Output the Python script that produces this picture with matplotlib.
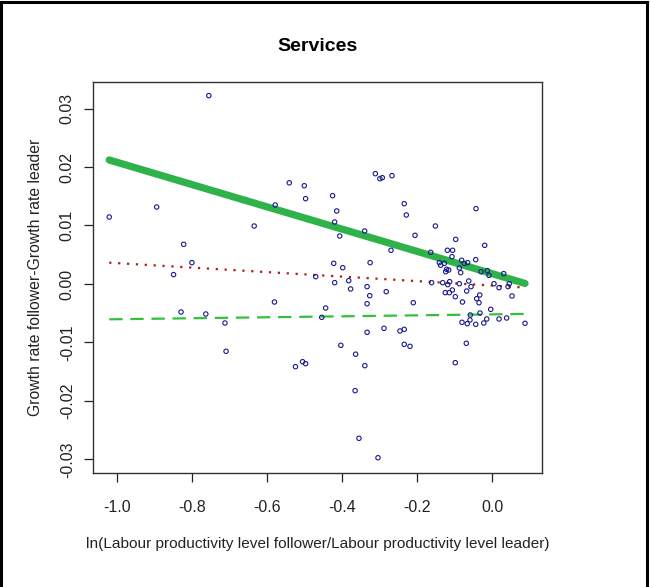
import numpy as np
import matplotlib.pyplot as plt
from matplotlib.lines import Line2D

plt.rcParams['font.family'] = ['Liberation Sans', 'DejaVu Sans']

# gap in log productivity level vs gap in growth rate, one point per country pair
gap_level = np.array([
    -1.0205, -0.755, -0.894, -0.822, -0.849, -0.800, -0.829, -0.763, -0.712, -0.709,
    -0.634, -0.578, -0.580, -0.5405, -0.5005, -0.497, -0.524, -0.505, -0.497, -0.4435,
    -0.470, -0.425, -0.414, -0.4195, -0.406, -0.422, -0.398, -0.4195, -0.382, -0.403,
    -0.311, -0.299, -0.2925, -0.2667, -0.377, -0.3395, -0.325, -0.333, -0.326, -0.333,
    -0.333, -0.3635, -0.339, -0.365, -0.3547, -0.304, -0.288, -0.282, -0.2693, -0.2453,
    -0.234, -0.234, -0.2187, -0.234, -0.2285, -0.2053, -0.2098, -0.151, -0.1635, -0.1405,
    -0.137, -0.127, -0.119, -0.105, -0.1067, -0.0968, -0.121, -0.1235, -0.1155, -0.1315,
    -0.118, -0.113, -0.1245, -0.1138, -0.1058, -0.0978, -0.0872, -0.0872, -0.0835, -0.081,
    -0.074, -0.065, -0.0788, -0.08, -0.062, -0.056, -0.0675, -0.066, -0.0587, -0.0685,
    -0.098, -0.0427, -0.0435, -0.0195, -0.0435, -0.0408, -0.0347, -0.0328, -0.032, -0.022,
    -0.014, -0.0035, -0.0293, -0.0125, -0.008, 0.0053, 0.0187, 0.0312, 0.0427, 0.046,
    0.0533, 0.0187, 0.039, 0.088, -0.161, -0.454, -0.058])
gap_growth = np.array([
    0.01145, 0.0322, 0.01316, 0.00678, 0.0016, 0.00365, -0.00479, -0.00513, -0.00667, -0.0115,
    0.00991, 0.0135, -0.00308, 0.0173, 0.0168, 0.01459, -0.01413, -0.01328, -0.01362, -0.0041,
    0.00125, 0.0151, 0.01248, 0.0106, 0.0082, 0.00353, 0.00279, 0.00023, 0.00057, -0.01048,
    0.01886, 0.0180, 0.01817, 0.01852, -0.00085, 0.00906, 0.00365, -0.00045, -0.002, -0.00337,
    -0.00826, -0.0120, -0.01396, -0.01823, -0.02638, -0.0297, -0.00758, -0.00131, 0.00576, -0.00803,
    -0.00775, -0.01031, -0.01066, 0.01373, 0.0118, 0.00832, -0.0032, 0.00991, 0.00541, 0.00365,
    0.0032, 0.00353, 0.00576, 0.00576, 0.00467, 0.00763, 0.00251, 0.0021, 0.00239, 0.00023,
    -0.00011, 0.0004, -0.00148, -0.00148, -0.00103, -0.00217, 0.00005, 0.00274, 0.00194, 0.00405,
    0.00353, 0.00365, -0.00308, -0.00655, 0.00051, -0.00045, -0.0012, -0.00678, -0.00615, -0.01014,
    -0.01345, 0.01288, 0.00416, 0.00661, -0.00689, -0.00251, -0.0032, -0.00188, -0.00496, -0.00667,
    -0.00598, -0.00433, 0.0021, 0.00228, 0.00148, 0.00005, -0.00063, 0.00177, -0.00045, 0.00005,
    -0.00205, -0.00598, -0.00581, -0.00672, 0.00023, -0.0057, -0.0053])

# three fitted lines: intercept, slope
fit_names = ['main', 'dotted', 'dashed']
fit_intercept = [0.00177, -0.00027, -0.00519]
fit_slope = [-0.01904, -0.00384, 0.00083]

x_ticks = [-1.0, -0.8, -0.6, -0.4, -0.2, 0.0]
y_ticks = [-0.03, -0.02, -0.01, 0.00, 0.01, 0.02, 0.03]

fig = plt.figure(figsize=(6.5, 5.87), dpi=100)
ax = fig.add_axes([0.1435, 0.1942, 0.6899, 0.6666])

xx = np.array([gap_level.min(), gap_level.max()])
styles = {
    'main': dict(color='#2db34a', lw=5.2, ls='-', solid_capstyle='round', zorder=2),
    'dotted': dict(color='#b01c1c', lw=1.6, ls=(0, (1.0, 3.0)), zorder=2),
    'dashed': dict(color='#33c13a', lw=1.6, ls=(0, (6, 3.5)), zorder=2),
}
for name, a, b in zip(fit_names, fit_intercept, fit_slope):
    ax.plot(xx, a + b * xx, **styles[name])

ax.scatter(gap_level, gap_growth, s=10, facecolors='none', edgecolors='#1a1a8c',
           linewidths=0.8, zorder=3)

ax.set_xlim(-1.063, 0.1325)
ax.set_ylim(-0.03231, 0.03458)
ax.set_xticks(x_ticks)
ax.set_xticklabels([f"{v:.1f}" for v in x_ticks])
ax.set_yticks(y_ticks)
ax.set_yticklabels([f"{v:.2f}" for v in y_ticks], rotation=90, va='center')
ax.tick_params(direction='out', length=6.3, width=0.9, labelsize=11.5, colors='#222222')
ax.tick_params(axis='x', pad=13)
ax.tick_params(axis='y', pad=7)
for s in ax.spines.values():
    s.set_linewidth(1.0)
    s.set_color('#333333')

ax.set_title('Services', fontsize=14, fontweight='bold', pad=22)
ax.set_xlabel('ln(Labour productivity level follower/Labour productivity level leader)',
              fontsize=11.1, labelpad=16, color='#222222')
ax.set_ylabel('Growth rate follower-Growth rate leader', fontsize=11.3, labelpad=12,
              color='#222222')

# frame around the picture (left, top, right)
fr = dict(color='black', lw=2.2, transform=fig.transFigure)
fig.add_artist(Line2D([0.002, 0.002], [0, 0.996], **fr))
fig.add_artist(Line2D([0.002, 0.996], [0.996, 0.996], **fr))
fig.add_artist(Line2D([0.996, 0.996], [0, 0.996], **fr))

fig.savefig('out.png', dpi=100)
